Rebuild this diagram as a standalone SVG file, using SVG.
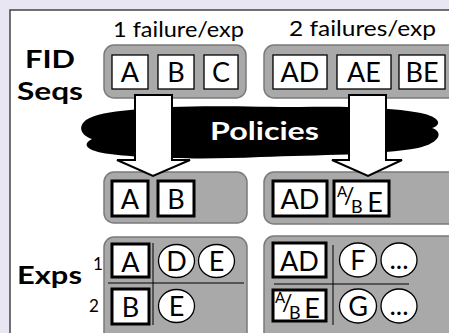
<svg xmlns="http://www.w3.org/2000/svg" width="449" height="333" viewBox="0 0 449 333">
<style>
.lbl{font-family:Lato,"Open Sans","Liberation Sans",sans-serif;fill:#000}
.b{font-weight:bold}
.grp{fill:#a9a9a9;stroke:#7a7a7a;stroke-width:1.5}
.sq{fill:#fff;stroke:#000;stroke-width:1.3}
.sqt{fill:#fff;stroke:#000;stroke-width:3}
.cir{fill:#fff;stroke:#000;stroke-width:1.3}
.let{font-family:Lato,"Open Sans","Liberation Sans",sans-serif;font-size:27px;text-anchor:middle;fill:#000}
.sm{font-family:Lato,"Open Sans","Liberation Sans",sans-serif;font-size:14px;fill:#000}
.div{stroke:#000;stroke-width:1;fill:none}
.arr{fill:#fff;stroke:#000;stroke-width:2;stroke-linejoin:miter}
</style>
<rect x="0" y="0" width="449" height="333" fill="#e8e6f3"/>
<rect x="10" y="10" width="460" height="340" fill="#fff" stroke="#444" stroke-width="1.5"/>

<g id="labels">
<text class="lbl" x="113" y="37" font-size="22" textLength="131" lengthAdjust="spacingAndGlyphs">1 failure/exp</text>
<text class="lbl" x="289" y="36" font-size="22" textLength="147" lengthAdjust="spacingAndGlyphs">2 failures/exp</text>
<text class="lbl b" x="25" y="68" font-size="25" textLength="50" lengthAdjust="spacingAndGlyphs">FID</text>
<text class="lbl b" x="17" y="100" font-size="25" textLength="66" lengthAdjust="spacingAndGlyphs">Seqs</text>
<text class="lbl b" x="17" y="284" font-size="25" textLength="65" lengthAdjust="spacingAndGlyphs">Exps</text>
<text class="lbl" x="93" y="270" font-size="17">1</text>
<text class="lbl" x="89" y="312" font-size="17">2</text>
</g>

<g id="fid-1fail">
<rect class="grp" x="104" y="45" width="142" height="53" rx="10"/>
<rect class="sq" x="112" y="55" width="36" height="34"/><text class="let" x="130" y="82">A</text>
<rect class="sq" x="158" y="55" width="36" height="34"/><text class="let" x="176" y="82">B</text>
<rect class="sq" x="204" y="55" width="34" height="34"/><text class="let" x="221" y="82">C</text>
</g>

<g id="fid-2fail">
<rect class="grp" x="264" y="45" width="200" height="53" rx="10"/>
<rect class="sq" x="273" y="55" width="54" height="34"/><text class="let" x="300" y="82">AD</text>
<rect class="sq" x="337" y="55" width="54" height="34"/><text class="let" x="364" y="82">AE</text>
<rect class="sq" x="399" y="55" width="46" height="34"/><text class="let" x="422" y="82">BE</text>
</g>

<g id="policies">
<path fill="#000" d="M130,110 C180,104 250,107 300,107 C350,106 400,108 425,114 C440,118 442,125 432,128 C444,132 440,143 418,148 C380,155 320,155 260,157 C200,160 140,158 110,154 C85,151 82,144 92,139 C80,135 78,126 86,120 C95,114 110,112 130,110 Z"/>
<text class="lbl b" x="210" y="140" font-size="25" style="fill:#fff" textLength="109" lengthAdjust="spacingAndGlyphs">Policies</text>
</g>

<g id="sel-1fail">
<rect class="grp" x="104" y="172" width="143" height="51" rx="10"/>
<rect class="sqt" x="112" y="181" width="36" height="35"/><text class="let" x="130" y="209">A</text>
<rect class="sqt" x="158" y="181" width="36" height="35"/><text class="let" x="176" y="209">B</text>
</g>

<g id="sel-2fail">
<rect class="grp" x="264" y="172" width="200" height="52" rx="10"/>
<rect class="sqt" x="273" y="181" width="54" height="35"/><text class="let" x="300" y="209">AD</text>
<rect class="sqt" x="334" y="181" width="55" height="35"/>
<text class="sm"><tspan x="337" y="197" font-size="15">A</tspan><tspan x="344" y="204" font-size="23">/</tspan><tspan x="351" y="213" font-size="18">B</tspan></text>
<text class="let" x="375" y="212">E</text>
</g>

<g id="exps-1fail">
<rect class="grp" x="104" y="237" width="143" height="110" rx="10"/>
<line class="div" x1="153" y1="243" x2="153" y2="325"/>
<line class="div" x1="108" y1="283" x2="244" y2="283"/>
<rect class="sqt" x="112" y="244" width="37" height="33"/><text class="let" x="130.5" y="272">A</text>
<ellipse class="cir" cx="176.5" cy="261" rx="18" ry="16.5"/><text class="let" x="176.5" y="271">D</text>
<ellipse class="cir" cx="216.5" cy="261" rx="18" ry="16.5"/><text class="let" x="216.5" y="271">E</text>
<rect class="sqt" x="112" y="289" width="37" height="35"/><text class="let" x="130.5" y="317">B</text>
<ellipse class="cir" cx="176.5" cy="306" rx="18" ry="16.5"/><text class="let" x="176.5" y="316">E</text>
</g>

<g id="exps-2fail">
<rect class="grp" x="264" y="236" width="200" height="110" rx="10"/>
<line class="div" x1="333" y1="245" x2="333" y2="325"/>
<line class="div" x1="274" y1="284" x2="409" y2="284"/>
<rect class="sqt" x="273" y="243" width="53" height="34"/><text class="let" x="299.5" y="271">AD</text>
<ellipse class="cir" cx="358" cy="260" rx="18.5" ry="17"/><text class="let" x="358" y="270">F</text>
<ellipse class="cir" cx="399" cy="260" rx="18" ry="17"/><text class="let" x="399" y="269" font-size="17">...</text>
<rect class="sqt" x="273" y="290" width="53" height="31"/>
<text class="sm"><tspan x="275" y="303" font-size="15">A</tspan><tspan x="282" y="311" font-size="23">/</tspan><tspan x="289" y="319" font-size="18">B</tspan></text>
<text class="let" x="312" y="318">E</text>
<ellipse class="cir" cx="358" cy="306" rx="18.5" ry="17"/><text class="let" x="358" y="316">G</text>
<ellipse class="cir" cx="399" cy="306" rx="18" ry="17"/><text class="let" x="399" y="315" font-size="17">...</text>
</g>

<g id="connectors">
<path class="arr" d="M135,95 L172,95 L172,160 L190,160 L153,176 L117,160 L135,160 Z"/>
<path class="arr" d="M349,95 L386,95 L386,160 L402,160 L368,176 L332,160 L349,160 Z"/>
</g>
</svg>
